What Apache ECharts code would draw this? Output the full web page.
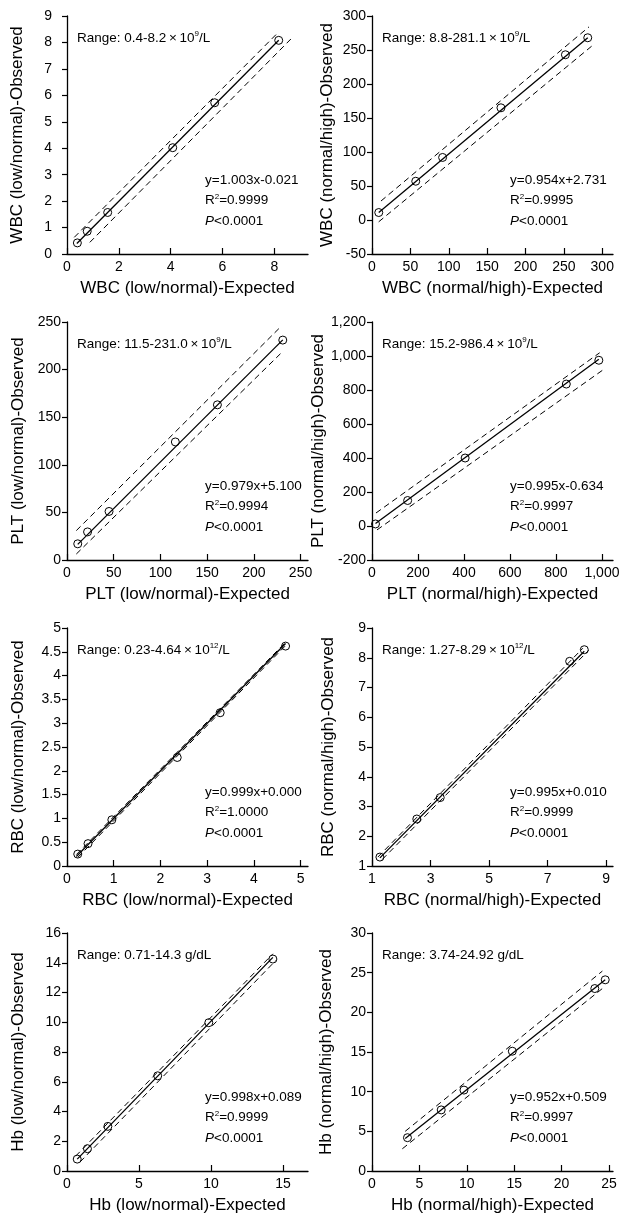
<html>
<head>
<meta charset="UTF-8">
<title>Linearity</title>
<script src="https://cdn.jsdelivr.net/npm/echarts@6/dist/echarts.min.js"></script>
</head>
<body style="margin:0;background:#fff">
<div id="main" style="width:624px;height:1216px;"></div>
<script>
// ---- data (expected x, observed y) ----
// WBC low/normal
var wbcLowX = [0.4, 0.78, 1.57, 4.08, 5.7, 8.17];
var wbcLowY = [0.42, 0.86, 1.57, 4.02, 5.72, 8.08];
var wbcLowFit = [[0.38, 0.4], [8.17, 8.08]];
var wbcLowUp = [[0.28, 0.63], [8.1, 8.33]];
var wbcLowDn = [[0.88, 0.44], [8.72, 8.21]];
// WBC normal/high
var wbcHighX = [8.8, 57, 92, 168, 252, 281.1];
var wbcHighY = [11, 57, 92, 165, 243, 268];
var wbcHighFit = [[8.8, 11], [281.1, 268]];
var wbcHighUp = [[11.7, 27.9], [282.7, 284]];
var wbcHighDn = [[8.7, -2.7], [287.9, 257.2]];
// PLT low/normal
var pltLowX = [11.5, 22, 45, 116, 161, 231];
var pltLowY = [17, 29.5, 51, 124, 163, 231];
var pltLowFit = [[11.5, 16.4], [231, 231.2]];
var pltLowUp = [[10, 30.9], [228.5, 244.7]];
var pltLowDn = [[10, 6.3], [230.3, 218.4]];
// PLT normal/high
var pltHighX = [15.2, 155, 405, 845, 986.4];
var pltHighY = [12, 150, 400, 835, 975];
var pltHighFit = [[15.2, 14.5], [986.4, 980.8]];
var pltHighUp = [[17.3, 76.4], [990, 1019]];
var pltHighDn = [[21.7, -23], [1011.6, 925]];
// RBC low/normal
var rbcLowX = [0.23, 0.45, 0.96, 2.36, 3.28, 4.68];
var rbcLowY = [0.25, 0.47, 0.97, 2.28, 3.22, 4.62];
var rbcLowFit = [[0.2, 0.2], [4.68, 4.675]];
var rbcLowUp = [[0.2, 0.24], [4.68, 4.7]];
var rbcLowDn = [[0.23, 0.18], [4.7, 4.65]];
// RBC normal/high
var rbcHighX = [1.27, 2.53, 3.33, 7.75, 8.25];
var rbcHighY = [1.3, 2.58, 3.3, 7.88, 8.27];
var rbcHighFit = [[1.27, 1.274], [8.25, 8.22]];
var rbcHighUp = [[1.2, 1.3], [8.2, 8.32]];
var rbcHighDn = [[1.35, 1.22], [8.4, 8.25]];
// Hb low/normal
var hbLowX = [0.71, 1.42, 2.84, 6.3, 9.85, 14.3];
var hbLowY = [0.8, 1.5, 3.0, 6.4, 9.97, 14.25];
var hbLowFit = [[0.71, 0.8], [14.3, 14.36]];
var hbLowUp = [[0.6, 1.0], [14.3, 14.6]];
var hbLowDn = [[0.9, 0.6], [14.5, 14.15]];
// Hb normal/high
var hbHighX = [3.74, 7.3, 9.7, 14.8, 23.5, 24.6];
var hbHighY = [4.2, 7.7, 10.2, 15.1, 23.0, 24.1];
var hbHighFit = [[3.5, 4.1], [24.6, 24.1]];
var hbHighUp = [[3.5, 5.0], [24.3, 25.2]];
var hbHighDn = [[3.2, 2.8], [24.3, 23.0]];

// tick labels
var xTicks = [[0, 2, 4, 6, 8], [0, 50, 100, 150, 200, 250, 300], [0, 50, 100, 150, 200, 250],
  [0, 200, 400, 600, 800, 1000], [0, 1, 2, 3, 4, 5], [1, 3, 5, 7, 9], [0, 5, 10, 15], [0, 5, 10, 15, 20, 25]];

var panels = [
  {ax: 'WBC (low/normal)', x: wbcLowX, y: wbcLowY, fit: wbcLowFit, up: wbcLowUp, dn: wbcLowDn,
   xMin: 0, xMax: 9.3, yMin: 0, yMax: 9, yStep: 1, range: '0.4-8.2', exp: '9', unit: 'L',
   eq: 'y=1.003x-0.021', r2: '0.9999'},
  {ax: 'WBC (normal/high)', x: wbcHighX, y: wbcHighY, fit: wbcHighFit, up: wbcHighUp, dn: wbcHighDn,
   xMin: 0, xMax: 314, yMin: -50, yMax: 300, yStep: 50, range: '8.8-281.1', exp: '9', unit: 'L',
   eq: 'y=0.954x+2.731', r2: '0.9995'},
  {ax: 'PLT (low/normal)', x: pltLowX, y: pltLowY, fit: pltLowFit, up: pltLowUp, dn: pltLowDn,
   xMin: 0, xMax: 258, yMin: 0, yMax: 250, yStep: 50, range: '11.5-231.0', exp: '9', unit: 'L',
   eq: 'y=0.979x+5.100', r2: '0.9994'},
  {ax: 'PLT (normal/high)', x: pltHighX, y: pltHighY, fit: pltHighFit, up: pltHighUp, dn: pltHighDn,
   xMin: 0, xMax: 1048, yMin: -200, yMax: 1200, yStep: 200, range: '15.2-986.4', exp: '9', unit: 'L',
   eq: 'y=0.995x-0.634', r2: '0.9997', comma: true},
  {ax: 'RBC (low/normal)', x: rbcLowX, y: rbcLowY, fit: rbcLowFit, up: rbcLowUp, dn: rbcLowDn,
   xMin: 0, xMax: 5.16, yMin: 0, yMax: 5, yStep: 0.5, range: '0.23-4.64', exp: '12', unit: 'L',
   eq: 'y=0.999x+0.000', r2: '1.0000'},
  {ax: 'RBC (normal/high)', x: rbcHighX, y: rbcHighY, fit: rbcHighFit, up: rbcHighUp, dn: rbcHighDn,
   xMin: 1, xMax: 9.23, yMin: 1, yMax: 9, yStep: 1, range: '1.27-8.29', exp: '12', unit: 'L',
   eq: 'y=0.995x+0.010', r2: '0.9999'},
  {ax: 'Hb (low/normal)', x: hbLowX, y: hbLowY, fit: hbLowFit, up: hbLowUp, dn: hbLowDn,
   xMin: 0, xMax: 16.74, yMin: 0, yMax: 16, yStep: 2, range: '0.71-14.3 g/dL',
   eq: 'y=0.998x+0.089', r2: '0.9999'},
  {ax: 'Hb (normal/high)', x: hbHighX, y: hbHighY, fit: hbHighFit, up: hbHighUp, dn: hbHighDn,
   xMin: 0, xMax: 25.42, yMin: 0, yMax: 30, yStep: 5, range: '3.74-24.92 g/dL',
   eq: 'y=0.952x+0.509', r2: '0.9997'}
];

var FONT = '"Liberation Sans", Arial, sans-serif';
var colLeft = [67, 372];
var rowTop = [16, 322, 628, 933];
var gridW = 241, gridH = 238;
var yNameGap = [41, 36, 40, 37, 40, 35, 40, 37];
var yLabelMargin = [15, 6, 6, 6, 6, 6, 6, 6];

function fmt(comma) {
  return function (v) { return comma ? v.toLocaleString('en-US') : String(v); };
}

var grid = [], xAxis = [], yAxis = [], series = [], graphic = [];
var rich = {
  n: {fontSize: 13.5, fontFamily: FONT, fill: '#000', color: '#000', lineHeight: 16},
  s: {fontSize: 8, fontFamily: FONT, fill: '#000', color: '#000', verticalAlign: 'top', lineHeight: 16},
  i: {fontSize: 13.5, fontFamily: FONT, fontStyle: 'italic', fill: '#000', color: '#000', lineHeight: 16}
};

panels.forEach(function (p, i) {
  var L = colLeft[i % 2], T = rowTop[Math.floor(i / 2)];
  grid.push({left: L, top: T, width: gridW, height: gridH, outerBoundsMode: 'none'});
  xAxis.push({
    gridIndex: i, type: 'value', min: p.xMin, max: p.xMax,
    name: p.ax + '-Expected', nameLocation: 'middle', nameGap: 26,
    nameTextStyle: {fontSize: 17, color: '#000', fontFamily: FONT},
    axisLine: {onZero: false, lineStyle: {color: '#000', width: 1.3}},
    axisTick: {inside: true, length: 6, customValues: xTicks[i], lineStyle: {color: '#000', width: 1.2}},
    axisLabel: {customValues: xTicks[i], margin: 6, fontSize: 14, color: '#000', fontFamily: FONT,
      formatter: fmt(p.comma)},
    splitLine: {show: false}
  });
  yAxis.push({
    gridIndex: i, type: 'value', min: p.yMin, max: p.yMax, interval: p.yStep,
    name: p.ax + '-Observed', nameLocation: 'middle', nameGap: yNameGap[i],
    nameTextStyle: {fontSize: 17, color: '#000', fontFamily: FONT},
    axisLine: {onZero: false, lineStyle: {color: '#000', width: 1.3}},
    axisTick: {inside: false, length: 5, lineStyle: {color: '#000', width: 1.2}},
    axisLabel: {margin: yLabelMargin[i], fontSize: 14, color: '#000', fontFamily: FONT,
      formatter: fmt(p.comma)},
    splitLine: {show: false}
  });
  var lineBase = {type: 'line', xAxisIndex: i, yAxisIndex: i, symbol: 'none', silent: true};
  series.push(Object.assign({}, lineBase, {data: p.up, lineStyle: {color: '#000', width: 1, type: [6, 4]}}));
  series.push(Object.assign({}, lineBase, {data: p.dn, lineStyle: {color: '#000', width: 1, type: [6, 4]}}));
  series.push(Object.assign({}, lineBase, {data: p.fit, lineStyle: {color: '#000', width: 1.3}}));
  series.push({
    type: 'scatter', xAxisIndex: i, yAxisIndex: i, symbol: 'circle', symbolSize: 8,
    data: p.x.map(function (v, k) { return [v, p.y[k]]; }),
    itemStyle: {color: 'rgba(0,0,0,0)', borderColor: '#000', borderWidth: 1, opacity: 1}
  });

  var rangeText = p.exp
    ? '{n|Range: ' + p.range + '\u2009\u00D7\u200910}{s|' + p.exp + '}{n|/' + p.unit + '}'
    : '{n|Range: ' + p.range + '}';
  graphic.push({type: 'text', x: L + 10, y: T + 22, silent: true,
    style: {text: rangeText, rich: rich, verticalAlign: 'middle', fill: '#000'}});
  graphic.push({type: 'text', x: L + 138, y: T + 164, silent: true,
    style: {text: '{n|' + p.eq + '}', rich: rich, verticalAlign: 'middle', fill: '#000'}});
  graphic.push({type: 'text', x: L + 138, y: T + 184.5, silent: true,
    style: {text: '{n|R}{s|2}{n|=' + p.r2 + '}', rich: rich, verticalAlign: 'middle', fill: '#000'}});
  graphic.push({type: 'text', x: L + 138, y: T + 205, silent: true,
    style: {text: '{i|P}{n|<0.0001}', rich: rich, verticalAlign: 'middle', fill: '#000'}});
});

var myChart = echarts.init(document.getElementById('main'));
myChart.setOption({
  animation: false,
  backgroundColor: '#fff',
  grid: grid,
  xAxis: xAxis,
  yAxis: yAxis,
  series: series,
  graphic: graphic
});
</script>
</body>
</html>
